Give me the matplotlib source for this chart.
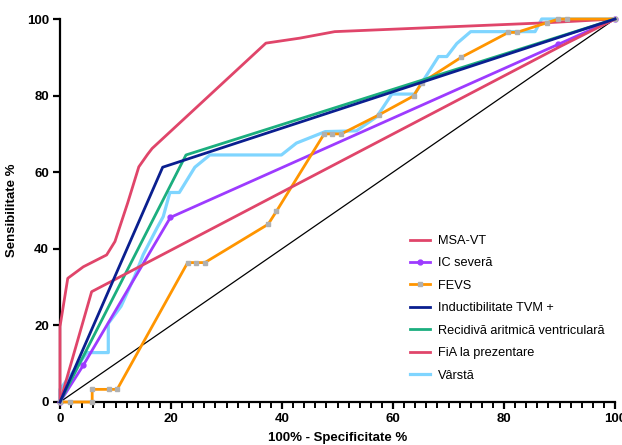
import numpy as np
import matplotlib
matplotlib.use("Agg")
import matplotlib.pyplot as plt
from matplotlib.ticker import MultipleLocator

plt.rcParams["font.family"] = ["Liberation Sans", "DejaVu Sans"]

# ---- data (100% - specificity, sensitivity) ----
msa_x = [0, 0, 1.4, 4.2, 8.4, 9.9, 12.2, 14.2, 15.8, 16.6, 37.1, 43.2, 49.5, 87.4, 100]
msa_y = [0, 19.7, 32.3, 35.3, 38.4, 41.9, 52, 61.4, 64.7, 66.2, 93.7, 95.0, 96.7, 99.0, 100]

ic_x = [0, 4.2, 19.9, 89.8, 100]
ic_y = [0, 9.6, 48.2, 93.4, 100]

fevs_x = [0, 1.8, 5.8, 5.8, 8.9, 10.3, 23.0, 24.5, 26.1, 37.5, 39.0, 47.6, 49.0, 50.7,
          57.5, 63.7, 65.2, 72.3, 80.8, 82.3, 87.7, 89.8, 91.3, 100]
fevs_y = [0, 0, 0, 3.3, 3.3, 3.3, 36.4, 36.4, 36.4, 46.4, 49.8, 70.0, 70.0, 70.0,
          75.0, 79.9, 83.4, 90.0, 96.5, 96.5, 99.0, 100, 100, 100]

tvm_x = [0, 18.5, 100]
tvm_y = [0, 61.3, 100]

rec_x = [0, 22.7, 100]
rec_y = [0, 64.5, 100]

fia_x = [0, 5.7, 90.1, 100]
fia_y = [0, 28.8, 92.8, 100]

age_x = [0, 0, 4.9, 8.7, 8.7, 11.0, 13.5, 15.0, 17.5, 18.6, 19.8, 21.5, 24.3, 27.0, 39.9,
         42.6, 47.8, 53.4, 57.1, 59.8, 63.9, 68.2, 69.7, 71.5, 74.0, 85.6, 86.8, 100]
age_y = [0, 3.3, 12.9, 12.9, 20.5, 25.0, 33.0, 38.5, 45.5, 48.4, 54.7, 54.7, 61.3, 64.5, 64.5,
         67.6, 70.6, 70.8, 74.5, 80.4, 80.4, 90.2, 90.2, 93.6, 96.7, 96.7, 100, 100]

RED = "#E0456A"
PURPLE = "#9D3BFF"
ORANGE = "#FF9500"
NAVY = "#0A1F8F"
GREEN = "#1BAE7E"
LIGHTBLUE = "#7FD5FF"

fig = plt.figure(figsize=(6.22, 4.45), dpi=100)
ax = fig.add_axes([60 / 622, 1 - 402 / 445, 555 / 622, 383 / 445])

ax.plot([0, 100], [0, 100], color="black", lw=0.9, zorder=1)

lw = 2.0
ax.plot(msa_x, msa_y, color=RED, lw=lw, label="MSA-VT", clip_on=False, zorder=3)
ax.plot(ic_x, ic_y, color=PURPLE, lw=lw, marker="o", ms=3.5, label="IC severă",
        clip_on=False, zorder=3)
ax.plot(fevs_x, fevs_y, color=ORANGE, lw=lw, marker="s", ms=2.5, mfc="#B0B0B0", mec="#B0B0B0",
        label="FEVS", clip_on=False, zorder=3)
ax.plot(tvm_x, tvm_y, color=NAVY, lw=lw, label="Inductibilitate TVM +", clip_on=False, zorder=4)
ax.plot(rec_x, rec_y, color=GREEN, lw=lw, label="Recidivă aritmică ventriculară",
        clip_on=False, zorder=3)
ax.plot(fia_x, fia_y, color=RED, lw=lw, label="FiA la prezentare", clip_on=False, zorder=3)
ax.plot(age_x, age_y, color=LIGHTBLUE, lw=2.3, label="Vârstă", clip_on=False, zorder=2)

ax.set_xlim(0, 100)
ax.set_ylim(0, 100)
ax.xaxis.set_major_locator(MultipleLocator(20))
ax.xaxis.set_minor_locator(MultipleLocator(2))
ax.yaxis.set_major_locator(MultipleLocator(20))

for side in ["top", "right"]:
    ax.spines[side].set_visible(False)
for side in ["left", "bottom"]:
    ax.spines[side].set_linewidth(1.6)

ax.tick_params(axis="both", which="major", direction="out", length=5, width=1.6,
               labelsize=9.5, pad=3)
ax.tick_params(axis="x", which="minor", direction="out", length=4, width=1.4)
for lab in ax.get_xticklabels() + ax.get_yticklabels():
    lab.set_fontweight("bold")

ax.set_xlabel("100% - Specificitate %", fontsize=9.5, fontweight="bold", labelpad=5)
ax.set_ylabel("Sensibilitate %", fontsize=9.5, fontweight="bold", labelpad=6)

leg = fig.legend(loc="upper left", bbox_to_anchor=(410 / 622, 1 - 235 / 445),
                 frameon=False, fontsize=9.2, handlelength=1.57, handletextpad=0.63,
                 labelspacing=0.82, borderpad=0, borderaxespad=0)

fig.savefig("out.png", dpi=100)
